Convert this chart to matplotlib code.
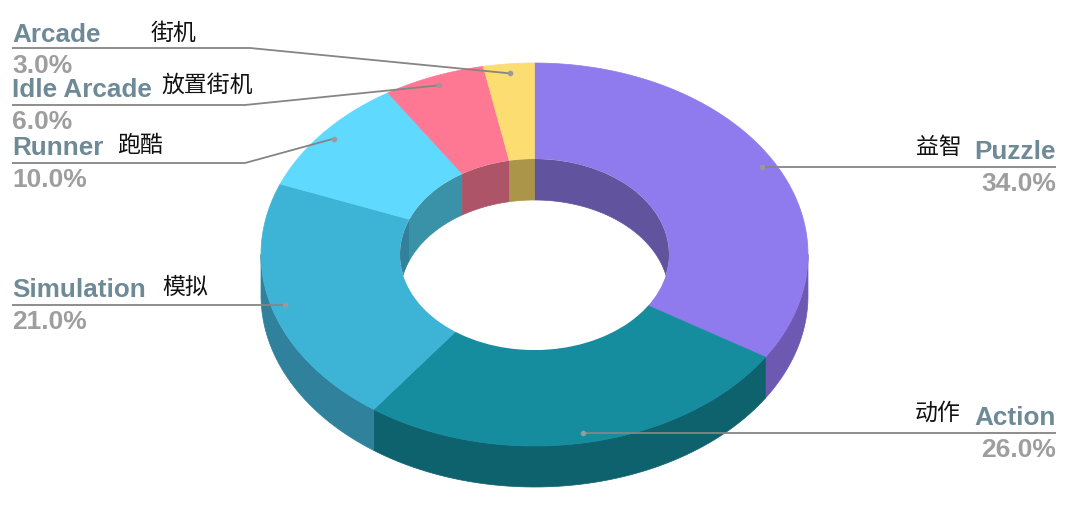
import matplotlib
matplotlib.use("Agg")
import matplotlib.pyplot as plt
from matplotlib.patches import Ellipse
import numpy as np

# dados do gráfico
categories = ["Puzzle", "Action", "Simulation", "Runner", "Idle Arcade", "Arcade"]
chinese = ["益智", "动作", "模拟", "跑酷", "放置街机", "街机"]
shares = [34.0, 26.0, 21.0, 10.0, 6.0, 3.0]

top_colors = ["#8F7BEE", "#168C9F", "#3DB4D5", "#5FD9FE", "#FE7893", "#FBDD72"]
wall_colors = ["#6D58B2", "#0E626E", "#2F819C", "#3A92A9", "#AE5468", "#AB9548"]
inner_colors = ["#61539E", "#0E626E", "#2F819C", "#3A92A9", "#AE5468", "#AB9548"]

# geometria em pixels da imagem
CX, CY = 534.5, 254.5
RX, RY = 273.5, 191.5
INNER_RX, INNER_RY = 134.5, 95.5
DEPTH = 41
FONT = ["Liberation Sans", "DejaVu Sans"]
CJK = ["Noto Sans CJK SC", "DejaVu Sans"]


def point(t, rx=RX, ry=RY, z=0.0):
    t = np.radians(t)
    return CX + rx * np.sin(t), CY - ry * np.cos(t) + z


def arc(t0, t1, rx=RX, ry=RY, z=0.0):
    return point(np.linspace(t0, t1, 120), rx, ry, z)


def wall(ax, t0, t1, rx, ry, color, clip=None):
    # lateral do anel entre dois ângulos
    x0, y0 = arc(t0, t1, rx, ry)
    x1, y1 = arc(t1, t0, rx, ry, DEPTH)
    poly = ax.fill(np.r_[x0, x1], np.r_[y0, y1], color=color, lw=0.5)[0]
    if clip is not None:
        poly.set_clip_path(clip)


fig = plt.figure(figsize=(10.8, 5.25), dpi=100)
ax = fig.add_axes([0, 0, 1, 1])
ax.set_xlim(0, 1080)
ax.set_ylim(525, 0)
ax.axis("off")

edges = np.cumsum([0.0] + shares) * 3.6

# parede externa (só a metade da frente aparece)
for i in range(len(shares)):
    t0, t1 = max(edges[i], 90), min(edges[i + 1], 270)
    if t1 > t0:
        wall(ax, t0, t1, RX, RY, wall_colors[i])

# topo do anel
for i in range(len(shares)):
    xo, yo = arc(edges[i], edges[i + 1])
    xi, yi = arc(edges[i + 1], edges[i], INNER_RX, INNER_RY)
    ax.fill(np.r_[xo, xi], np.r_[yo, yi], color=top_colors[i], lw=0.5)

# furo e parede interna (só a metade de trás aparece)
hole = Ellipse((CX, CY), 2 * INNER_RX, 2 * INNER_RY, fc="white", ec="none")
ax.add_patch(hole)
for i in range(len(shares)):
    for lo, hi in ((0, 90), (270, 360)):
        t0, t1 = max(edges[i], lo), min(edges[i + 1], hi)
        if t1 > t0:
            wall(ax, t0, t1, INNER_RX, INNER_RY, inner_colors[i], clip=hole)

# rótulos: y da linha, x do cotovelo, lado, x e y do texto chinês, y do nome, y da porcentagem
layout = {
    "Arcade": (48, 250, "left", 151, 33, 42, 73),
    "Idle Arcade": (105, 245, "left", 161, 85, 97, 129),
    "Runner": (163, 245, "left", 117, 145, 155, 187),
    "Simulation": (305, None, "left", 162, 287, 297, 329),
    "Puzzle": (167, None, "right", 916, 148, 159, 191),
    "Action": (433, None, "right", 915, 413, 425, 457),
}

for i, name in enumerate(categories):
    y, elbow, side, cn_x, cn_y, name_y, pct_y = layout[name]
    px, py = point((edges[i] + edges[i + 1]) / 2, 0.95 * RX, 0.95 * RY)
    x_text = 12 if side == "left" else 1056
    if elbow is None:
        xs, ys = [x_text, px], [y, y]
    else:
        xs, ys = [x_text, elbow, px], [y, y, py]
    ax.plot(xs, ys, color="#858585", lw=1.3, solid_capstyle="butt")
    ax.plot([px], [ys[-1]], "o", color="#9A9A9A", ms=3)
    ax.text(x_text, name_y, name, ha=side, va="baseline", family=FONT,
            weight="bold", fontsize=18.8, color="#6F8A97")
    ax.text(x_text, pct_y, f"{shares[i]:.1f}%", ha=side, va="baseline", family=FONT,
            weight="bold", fontsize=19, color="#9E9E9E")
    ax.text(cn_x, cn_y, chinese[i], ha="left", va="center", family=CJK,
            fontsize=16.5, color="#111111")

fig.savefig("out.png", dpi=100)
